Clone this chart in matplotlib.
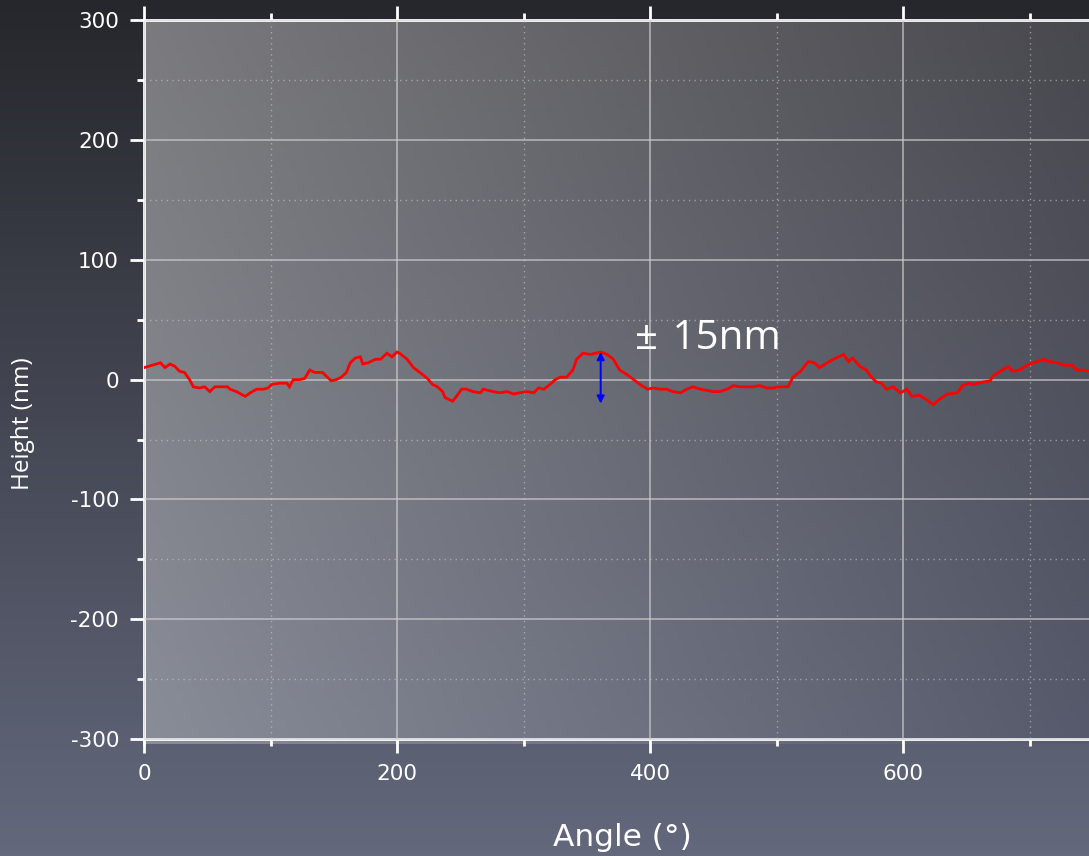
import numpy as np
import matplotlib
matplotlib.use("Agg")
import matplotlib.pyplot as plt
from matplotlib.ticker import MultipleLocator

# ---- data ----
angle = [0, 13, 16.6, 20.5, 24.5, 28, 32, 36, 39, 44, 48, 52, 56, 62, 66, 68, 73, 80, 84,
         89, 94, 98, 101, 107, 113, 115, 118, 123, 127, 131, 135, 141, 145, 148, 152, 156,
         160, 163, 167, 171, 173, 177, 183, 187, 192, 196, 200, 202, 208, 213, 218, 224,
         228, 232, 236, 238, 242, 244, 247, 251, 255, 260, 266, 268, 276, 281, 287, 292,
         297, 303, 308, 312, 316, 321, 325, 329, 334, 339, 342, 347, 353, 361, 366, 371,
         376, 382, 387, 392, 398, 402, 408, 413, 418, 424, 429, 434, 440, 445, 450, 455,
         461, 466, 471, 477, 481, 487, 492, 497, 503, 509, 513, 519, 525, 530, 534, 540,
         545, 553, 557, 560, 566, 571, 575, 579, 583, 587, 592, 598, 603, 607, 613, 619,
         624, 628, 635, 643, 647, 652, 655, 663, 669, 671, 677, 683, 687, 692, 698, 706,
         711, 716, 722, 727, 734, 737, 742, 747]
height = [10, 14, 10, 13, 11, 7, 6, 0, -6, -7, -6, -10, -6, -6, -6, -8, -10, -14, -11,
          -8, -8, -7, -4, -3, -3, -6, 0, 0, 1, 8, 6, 6, 2, -1, 0, 2,
          6, 14, 18, 19, 13, 14, 17, 17, 22, 19, 23, 22, 17, 10, 6, 1,
          -4, -6, -10, -15, -17, -18, -14, -8, -8, -10, -11, -8, -10, -11, -10, -12,
          -11, -10, -11, -7, -8, -4, 0, 2, 2, 8, 17, 22, 21, 23, 21, 17,
          8, 4, 0, -4, -8, -7, -8, -8, -10, -11, -8, -6, -8, -9, -10, -10,
          -8, -5, -6, -6, -6, -5, -7, -7, -6, -6, 2, 7, 15, 14, 10, 14,
          17, 21, 15, 18, 11, 8, 2, -2, -3, -8, -6, -11, -8, -14, -13, -17,
          -21, -17, -12, -11, -5, -3, -4, -2, -1, 3, 7, 11, 7, 8, 12, 15,
          17, 15, 14, 12, 12, 8, 8, 7]

x_major = [0, 200, 400, 600]
y_major = [-300, -200, -100, 0, 100, 200, 300]
annot_text = "± \u200a15nm"
arrow_x = 361
arrow_top, arrow_bottom = 23, -20

W, H = 1089, 856
fig = plt.figure(figsize=(W / 100, H / 100), dpi=100)

# figure background gradient
bg = fig.add_axes([0, 0, 1, 1], zorder=-10)
bg.axis("off")
top_c = np.array([38, 39, 44]) / 255
bot_c = np.array([99, 104, 124]) / 255
t = np.linspace(0, 1, 256)[:, None]
grad = top_c[None, :] * (1 - t) + bot_c[None, :] * t
bg.imshow(grad[:, None, :].repeat(2, axis=1), aspect="auto", extent=[0, 1, 0, 1])

ax_bottom_px = 744
ax_top_px = 20
ax = fig.add_axes([144 / W, (H - ax_bottom_px) / H, 1 - 144 / W, (ax_bottom_px - ax_top_px) / H])
ax.set_xlim(0, 747)
ax.set_ylim(-304, 300)
ax.patch.set_alpha(0)

# plot-area gradient (bilinear between corner colours)
tl = np.array([123, 123, 126]) / 255
tr = np.array([72, 72, 78]) / 255
bl = np.array([137, 141, 152]) / 255
br = np.array([86, 90, 108]) / 255
u = np.linspace(0, 1, 200)[None, :, None]
v = np.linspace(0, 1, 200)[:, None, None]
img = (tl * (1 - u) * (1 - v) + tr * u * (1 - v) + bl * (1 - u) * v + br * u * v)
ax.imshow(img, aspect="auto", extent=[0, 747, -304, 300], zorder=0, origin="upper")

# grid
ax.xaxis.set_major_locator(MultipleLocator(200))
ax.xaxis.set_minor_locator(MultipleLocator(100))
ax.yaxis.set_major_locator(MultipleLocator(100))
ax.yaxis.set_minor_locator(MultipleLocator(50))
ax.grid(True, which="major", color="#cccccc", alpha=0.75, lw=1.2, zorder=1)
ax.grid(True, which="minor", color="#cccccc", alpha=0.6, lw=1.0, ls=(0, (1, 3)), zorder=1)
ax.set_axisbelow(False)

ax.plot(angle, height, color="#ff0000", lw=2.0, zorder=3, solid_joinstyle="miter")

ax.annotate("", xy=(arrow_x, arrow_bottom), xytext=(arrow_x, arrow_top),
            arrowprops=dict(arrowstyle="<|-|>", color="#0000ff", lw=1.4,
                            mutation_scale=11, shrinkA=0, shrinkB=0), zorder=4)
ax.text(388, 34, annot_text, color="white", fontsize=29, family=["Open Sans", "DejaVu Sans"],
        va="center", ha="left", zorder=5)

# spines
for s in ["left", "top", "bottom"]:
    ax.spines[s].set_color("white")
    ax.spines[s].set_linewidth(2.0)
ax.spines["right"].set_visible(False)
ax.spines["bottom"].set_position(("data", -300))

ax.tick_params(which="both", direction="out", colors="white", width=2.0,
               top=True, bottom=True, left=True, right=False, labeltop=False)
ax.tick_params(which="major", length=10, labelsize=15.5, pad=8)
ax.tick_params(which="minor", length=5)
ax.set_xticks(x_major)
ax.set_yticks(y_major)
ax.set_yticklabels([str(v) for v in y_major])
for lab in ax.get_xticklabels() + ax.get_yticklabels():
    lab.set_color("white")

fig.text(622 / W, 1 - 837 / H, "Angle (°)", color="white", fontsize=22.5,
         ha="center", va="center")
fig.text(23 / W, 1 - 424 / H, "Height (nm)", color="white", fontsize=17.5,
         family=["Open Sans", "DejaVu Sans"], rotation=90, ha="center", va="center")

fig.savefig("out.png", dpi=100)
